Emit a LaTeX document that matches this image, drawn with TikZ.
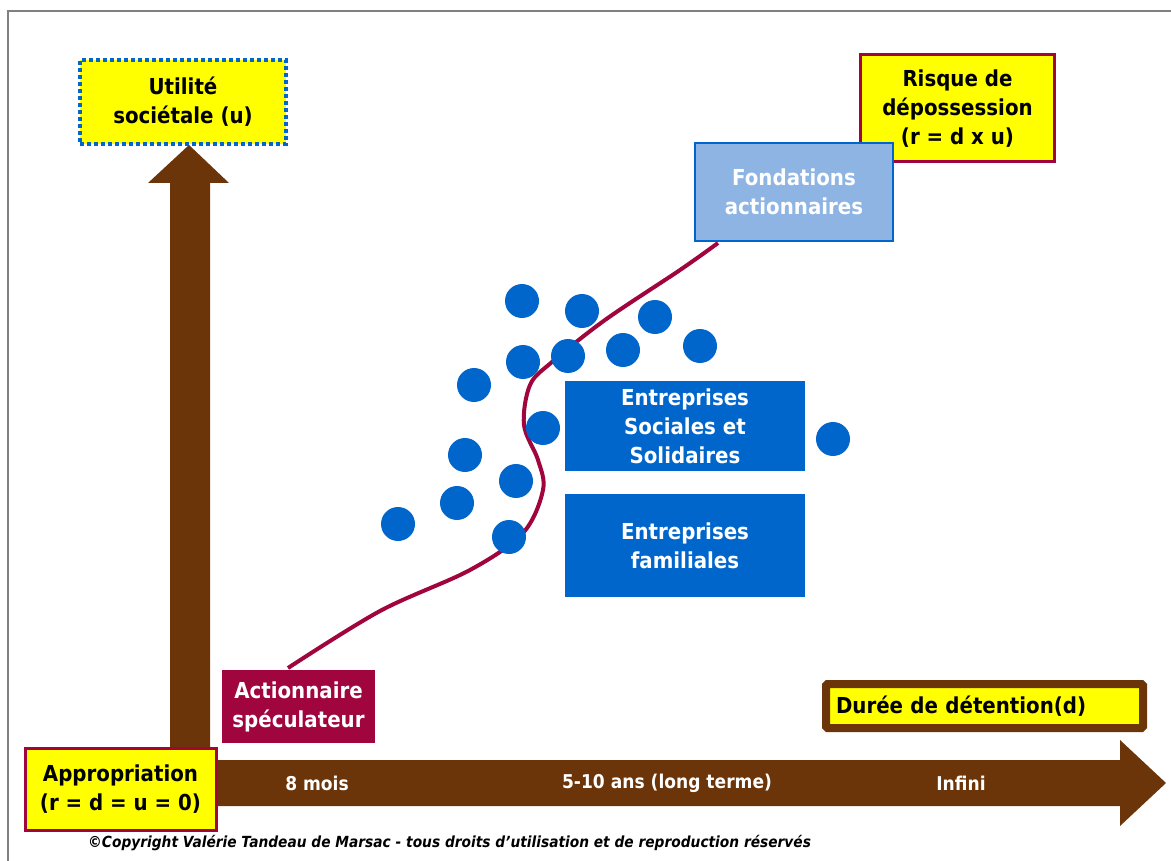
\documentclass[tikz,border=0pt]{standalone}
\usepackage{fontspec}
\setmainfont{DejaVu Sans}[FakeStretch=0.9]
\usetikzlibrary{calc}
\definecolor{brn}{HTML}{6B3409}
\definecolor{ylw}{HTML}{FFFF00}
\definecolor{crm}{HTML}{A0053E}
\definecolor{blu}{HTML}{0066CC}
\definecolor{lblu}{HTML}{8EB4E3}
\definecolor{frm}{HTML}{808080}
\tikzset{
  lbl/.style={font=\fontsize{22}{29}\selectfont\bfseries, align=center, inner sep=0pt},
  ybox/.style={lbl, fill=ylw, draw=crm, line width=3pt, text=black},
  dotbox/.style={lbl, fill=ylw, draw=blu, line width=4pt, dash pattern=on 4pt off 3pt, text=black},
  bbox/.style={lbl, fill=blu, text=white},
  lbbox/.style={lbl, fill=lblu, draw=blu, line width=2pt, text=white},
  cbox/.style={lbl, fill=crm, text=white},
  dot/.style={circle, fill=blu, minimum size=34pt, inner sep=0pt},
  axlbl/.style={font=\fontsize{19}{24}\selectfont\bfseries, text=white, inner sep=0pt},
  curve/.style={draw=crm, line width=4pt}
}
\begin{document}
\begin{tikzpicture}[x=1pt,y=-1pt]
\useasboundingbox (0,0) rectangle (1171,861);
\fill[white] (0,0) rectangle (1171,861);
% frame
\draw[frm, line width=1.5pt] (8,861) -- (8,11) -- (1171,11);
% arrows
\fill[brn] (170,750) -- (170,183) -- (148,183) -- (189,145) -- (229,183) -- (210,183) -- (210,750) -- cycle;
\fill[brn] (200,760) -- (1120,760) -- (1120,740) -- (1166,783) -- (1120,826) -- (1120,806) -- (200,806) -- cycle;
% axis labels
\node[axlbl] (l8) at (317,783) {8 mois};
\node[axlbl] (l510) at (667,783) {5-10 ans (long terme)};
\node[axlbl] (linf) at (961,783) {Infini};
% boxes
\node[dotbox, minimum width=206pt, minimum height=84pt] (util) at (183,102) {Utilité\\sociétale (u)};
\node[ybox, minimum width=194pt, minimum height=107pt] (risk) at (957.5,108.5) {Risque de\\dépossession\\(r = d x u)};
\node[lbbox, minimum width=198pt, minimum height=98pt] (fond) at (794,192) {Fondations\\actionnaires};
\node[bbox, minimum width=240pt, minimum height=90pt] (ess) at (685,426) {Entreprises\\Sociales et\\Solidaires};
\node[bbox, minimum width=240pt, minimum height=103pt] (fam) at (685,545.5) {Entreprises\\familiales};
\node[cbox, minimum width=153pt, minimum height=73pt] (act) at (298.5,706.5) {Actionnaire\\spéculateur};
\node[ybox, minimum width=191pt, minimum height=82pt] (appr) at (120.5,789) {Appropriation\\(r = d = u = 0)};
\node[lbl, fill=ylw, draw=brn, line width=8pt, rounded corners=1.5pt, minimum width=317pt, minimum height=44pt, text width=297pt, align=left] (dur) at (984.5,706) {Durée de détention(d)};
% curve
\coordinate (cs) at (288,668);
\coordinate (ce) at ($(fond.south west)+(24,1)$);
\draw[curve] plot[smooth, tension=0.55] coordinates {(cs) (380,611) (470,570) (523,533) (543,490) (538,460) (524,425) (530,385) (552,362) (605,320) (680,270) (ce)};
% dots
\foreach \n/\x/\y in {d1/522/301, d2/582/311, d3/655/317, d4/700/346, d5/623/350, d6/568/356, d7/523/362, d8/474/385, d9/543/428, d10/465/455, d11/516/481, d12/457/503, d13/398/524, d14/509/537, d15/833/439}
  \node[dot] (\n) at (\x,\y) {};
% copyright
\node[font=\fontsize{15.3}{17}\selectfont\bfseries\itshape, inner sep=0pt, anchor=west] (copy) at (88,843) {©Copyright Valérie Tandeau de Marsac - tous droits d'utilisation et de reproduction réservés};
\end{tikzpicture}
\end{document}
